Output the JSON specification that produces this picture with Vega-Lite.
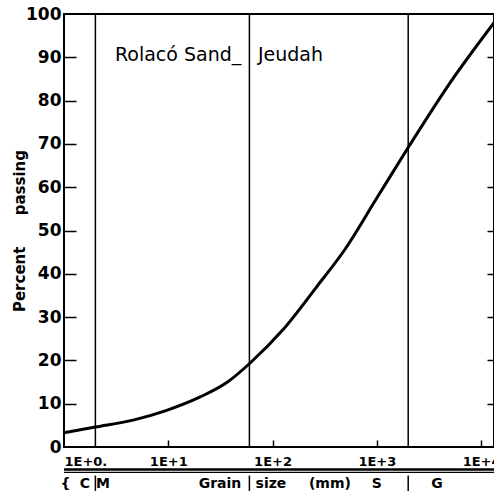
{
  "$schema": "https://vega.github.io/schema/vega-lite/v6.json",
  "width": 430,
  "height": 433,
  "autosize": {"type": "none"},
  "padding": {"left": 64, "top": 14, "right": 0, "bottom": 44},
  "background": "white",
  "config": {
    "view": {"stroke": "black", "strokeWidth": 2},
    "font": "DejaVu Sans",
    "axis": {"grid": false, "labelColor": "black", "tickColor": "black", "domainColor": "black", "titleColor": "black"}
  },
  "datasets": {
    "curve": [
      {"size": 1, "pct": 3.3},
      {"size": 2, "pct": 4.6},
      {"size": 4.6, "pct": 6.2},
      {"size": 9.5, "pct": 8.4},
      {"size": 20, "pct": 11.5},
      {"size": 37, "pct": 15},
      {"size": 61, "pct": 19.4},
      {"size": 125, "pct": 27},
      {"size": 265, "pct": 37},
      {"size": 490, "pct": 45.5},
      {"size": 1000, "pct": 57.5},
      {"size": 2040, "pct": 69.5},
      {"size": 5000, "pct": 84},
      {"size": 13300, "pct": 98}
    ],
    "bounds": [{"size": 2}, {"size": 60}, {"size": 2000}],
    "band": [
      {"size": 1.034, "label": "{"},
      {"size": 1.59, "label": "C"},
      {"size": 2.37, "label": "M"},
      {"size": 31.3, "label": "Grain"},
      {"size": 96.6, "label": "size"},
      {"size": 355, "label": "(mm)"},
      {"size": 1000, "label": "S"},
      {"size": 3770, "label": "G"}
    ]
  },
  "layer": [
    {
      "data": {"name": "curve"},
      "mark": {"type": "line", "interpolate": "monotone", "color": "black", "strokeWidth": 3},
      "encoding": {
        "x": {
          "field": "size", "type": "quantitative",
          "scale": {"type": "log", "domain": [1, 13300], "nice": false},
          "axis": {
            "orient": "bottom", "values": [1, 10, 100, 1000, 10000], "ticks": false, "domain": false,
            "labelExpr": "datum.value == 1 ? '1E+0.' : datum.value == 10 ? '1E+1' : datum.value == 100 ? '1E+2' : datum.value == 1000 ? '1E+3' : '1E+4'",
            "labelFlush": false,
            "labelAlign": {"condition": {"test": "datum.value == 1", "value": "left"}, "value": "center"},
            "labelFont": "DejaVu Sans", "labelFontWeight": "bold", "labelFontSize": 13, "labelPadding": 8,
            "labelOverlap": false, "title": null
          }
        },
        "y": {
          "field": "pct", "type": "quantitative",
          "scale": {"domain": [0, 100], "nice": false},
          "axis": {
            "orient": "left", "values": [0, 10, 20, 30, 40, 50, 60, 70, 80, 90, 100], "ticks": false, "domain": false,
            "labelFont": "DejaVu Sans", "labelFontWeight": "bold", "labelFontSize": 17, "labelPadding": 3,
            "title": "Percent\u00a0\u00a0\u00a0\u00a0\u00a0\u00a0passing", "titleFont": "DejaVu Sans", "titleFontSize": 15, "titleFontWeight": "bold", "titlePadding": -2
          }
        }
      }
    },
    {
      "data": {"name": "bounds"},
      "mark": {"type": "rule", "color": "black", "strokeWidth": 1.5},
      "encoding": {
        "x": {
          "field": "size", "type": "quantitative",
          "scale": {"type": "log", "domain": [1, 13300], "nice": false},
          "axis": {"orient": "bottom", "offset": -7, "tickSize": 7, "tickWidth": 1.5, "labels": false, "domain": false, "values": [10, 100, 1000, 10000], "title": null}
        }
      }
    },
    {
      "data": {"values": [{"size": 3.08, "pct": 90.5, "label": "Rolacó Sand_"}]},
      "mark": {"type": "text", "align": "left", "baseline": "middle", "font": "DejaVu Sans", "fontSize": 19, "color": "black"},
      "encoding": {
        "x": {"field": "size", "type": "quantitative", "scale": {"type": "log", "domain": [1, 13300], "nice": false}, "axis": null},
        "y": {
          "field": "pct", "type": "quantitative", "scale": {"domain": [0, 100], "nice": false},
          "axis": {"orient": "left", "offset": -12, "tickSize": 12, "tickWidth": 1.5, "labels": false, "domain": false, "values": [10, 20, 30, 40, 50, 60, 70, 80, 90], "title": null}
        },
        "text": {"field": "label"}
      }
    },
    {
      "data": {"values": [{"size": 72.4, "pct": 90.5, "label": "Jeudah"}]},
      "mark": {"type": "text", "align": "left", "baseline": "middle", "font": "DejaVu Sans", "fontSize": 19, "color": "black"},
      "encoding": {
        "x": {"field": "size", "type": "quantitative", "scale": {"type": "log", "domain": [1, 13300], "nice": false}, "axis": null},
        "y": {
          "field": "pct", "type": "quantitative", "scale": {"domain": [0, 100], "nice": false},
          "axis": {"orient": "right", "offset": -7, "tickSize": 7, "tickWidth": 1.5, "labels": false, "domain": false, "values": [10, 20, 30, 40, 50, 60, 70, 80, 90], "title": null}
        },
        "text": {"field": "label"}
      }
    },
    {
      "data": {"values": [{}]},
      "mark": {"type": "rule", "color": "black", "strokeWidth": 2.5},
      "encoding": {
        "y": {"datum": -5.2, "type": "quantitative", "scale": {"domain": [0, 100], "nice": false}, "axis": null}
      }
    },
    {
      "data": {"values": [{}]},
      "mark": {"type": "rule", "color": "black", "strokeWidth": 1.2},
      "encoding": {
        "y": {"datum": -5.85, "type": "quantitative", "scale": {"domain": [0, 100], "nice": false}, "axis": null}
      }
    },
    {
      "data": {"name": "bounds"},
      "mark": {"type": "rule", "color": "black", "strokeWidth": 1.5},
      "encoding": {
        "x": {"field": "size", "type": "quantitative", "scale": {"type": "log", "domain": [1, 13300], "nice": false}, "axis": null},
        "y": {"datum": -6.6, "type": "quantitative", "scale": {"domain": [0, 100], "nice": false}, "axis": null},
        "y2": {"datum": -10.6}
      }
    },
    {
      "data": {"name": "band"},
      "mark": {"type": "text", "align": "center", "baseline": "middle", "font": "DejaVu Sans", "fontWeight": "bold", "fontSize": 14, "color": "black"},
      "encoding": {
        "x": {"field": "size", "type": "quantitative", "scale": {"type": "log", "domain": [1, 13300], "nice": false}, "axis": null},
        "y": {"datum": -8.6, "type": "quantitative", "scale": {"domain": [0, 100], "nice": false}, "axis": null},
        "text": {"field": "label"}
      }
    }
  ],
  "resolve": {"axis": {"x": "independent", "y": "independent"}}
}
